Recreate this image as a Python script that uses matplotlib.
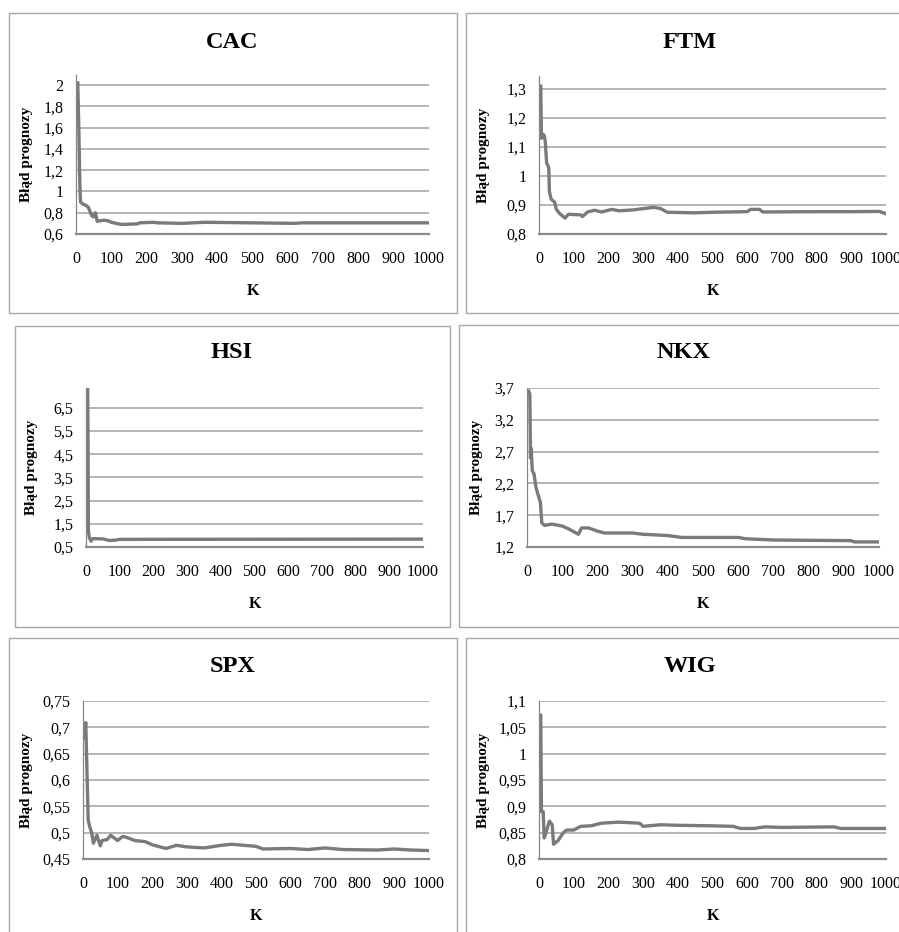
import matplotlib.pyplot as plt
from matplotlib.patches import Rectangle
import numpy as np

plt.rcParams['font.family'] = ['Liberation Serif', 'DejaVu Serif']

# values (K, forecast error)
cac_k = [5, 8, 11, 13, 20, 28, 35, 45, 50, 55, 60, 80, 90, 100, 120, 130, 175, 180, 220, 230, 300, 365, 620, 640, 1000]
cac_v = [2.02, 1.6, 1.05, 0.9, 0.88, 0.87, 0.85, 0.77, 0.76, 0.8, 0.72, 0.73, 0.725, 0.71, 0.695, 0.69, 0.695, 0.705, 0.71, 0.705, 0.7, 0.71, 0.7, 0.705, 0.705]

ftm_k = [5, 7, 10, 15, 18, 22, 28, 30, 35, 45, 50, 60, 75, 85, 120, 125, 140, 160, 180, 210, 230, 270, 330, 350, 370, 450, 500, 600, 610, 635, 645, 800, 900, 980, 1000]
ftm_v = [1.31, 1.13, 1.145, 1.14, 1.12, 1.045, 1.03, 0.947, 0.92, 0.91, 0.885, 0.87, 0.855, 0.868, 0.866, 0.86, 0.876, 0.882, 0.876, 0.885, 0.88, 0.883, 0.892, 0.888, 0.875, 0.873, 0.875, 0.877, 0.885, 0.885, 0.876, 0.877, 0.877, 0.878, 0.87]

hsi_k = [5, 6, 7, 10, 15, 20, 50, 70, 90, 100, 1000]
hsi_v = [7.3, 5.2, 1.2, 0.9, 0.75, 0.86, 0.85, 0.78, 0.8, 0.83, 0.84]

nkx_k = [5, 8, 10, 12, 15, 20, 25, 30, 38, 42, 50, 60, 70, 100, 120, 146, 155, 175, 200, 220, 300, 330, 400, 440, 600, 620, 700, 920, 930, 1000]
nkx_v = [3.65, 3.6, 2.6, 2.75, 2.4, 2.35, 2.15, 2.05, 1.9, 1.58, 1.54, 1.55, 1.56, 1.53, 1.48, 1.40, 1.50, 1.50, 1.45, 1.42, 1.42, 1.40, 1.38, 1.35, 1.35, 1.33, 1.31, 1.30, 1.28, 1.28]

spx_k = [3, 8, 12, 15, 20, 25, 30, 40, 50, 55, 70, 80, 100, 115, 130, 150, 180, 200, 240, 270, 300, 350, 400, 430, 500, 520, 600, 650, 700, 750, 850, 900, 950, 1000]
spx_v = [0.68, 0.709, 0.603, 0.524, 0.51, 0.5, 0.48, 0.495, 0.475, 0.485, 0.487, 0.495, 0.485, 0.493, 0.49, 0.485, 0.483, 0.477, 0.47, 0.476, 0.473, 0.471, 0.476, 0.478, 0.474, 0.469, 0.47, 0.468, 0.471, 0.468, 0.467, 0.469, 0.467, 0.466]

wig_k = [5, 7, 12, 15, 20, 30, 38, 42, 55, 70, 80, 100, 120, 150, 180, 230, 290, 300, 350, 400, 500, 560, 580, 620, 650, 700, 850, 870, 1000]
wig_v = [1.073, 0.89, 0.89, 0.84, 0.85, 0.872, 0.865, 0.828, 0.835, 0.85, 0.855, 0.855, 0.862, 0.863, 0.868, 0.87, 0.868, 0.862, 0.865, 0.864, 0.863, 0.862, 0.858, 0.858, 0.861, 0.86, 0.861, 0.858, 0.858]

W, H = 899, 932
fig = plt.figure(figsize=(W / 100, H / 100), dpi=100)


def px(x0, y0, x1, y1):
    # pixel box (top-left origin) -> figure fraction rect
    return [x0 / W, 1 - y1 / H, (x1 - x0) / W, (y1 - y0) / H]


def panel(title, k, v, box, axbox, ylim, yticks, ylabels, title_y, ylab_x):
    fig.add_artist(Rectangle((box[0] / W, 1 - box[3] / H), (box[2] - box[0]) / W,
                             (box[3] - box[1]) / H, transform=fig.transFigure,
                             fill=False, edgecolor='#a6a6a6', linewidth=1.0))
    ax = fig.add_axes(px(*axbox))
    ax.plot(k, v, color='#7a7a7a', linewidth=2.4, solid_joinstyle='round')
    ax.set_xlim(0, 1000)
    ax.set_ylim(*ylim)
    ax.set_xticks(np.arange(0, 1001, 100))
    ax.set_yticks(yticks)
    ax.set_yticklabels(ylabels)
    ax.tick_params(length=0, labelsize=11.5)
    ax.tick_params(axis='x', pad=12)
    ax.tick_params(axis='y', pad=9)
    ax.grid(axis='y', color='#a0a0a0', linewidth=1.1)
    ax.set_axisbelow(True)
    for s in ['top', 'right']:
        ax.spines[s].set_visible(False)
    ax.spines['left'].set_color('#868686')
    ax.spines['left'].set_linewidth(0.9)
    ax.spines['bottom'].set_color('#8c8c8c')
    ax.spines['bottom'].set_linewidth(1.6)
    ax.set_xlabel('K', fontsize=11.5, fontweight='bold', labelpad=12)
    ax.set_ylabel('Błąd prognozy', fontsize=11, fontweight='bold')
    ax.yaxis.set_label_coords((ylab_x - axbox[0]) / (axbox[2] - axbox[0]), 0.5)
    fig.text(title_y[0] / W, 1 - title_y[1] / H, title,
             ha='center', va='center', fontsize=17.5, fontweight='bold')
    return ax


def lab(vals, fmt):
    return [fmt.format(x).replace('.', ',') for x in vals]


panel('CAC', cac_k, cac_v, (9, 13, 457, 313), (76, 75, 429, 234), (0.6, 2.094),
      np.arange(0.6, 2.01, 0.2), ['0,6', '0,8', '1', '1,2', '1,4', '1,6', '1,8', '2'], (232, 42), 33)
panel('FTM', ftm_k, ftm_v, (466, 13, 910, 313), (539, 76, 886, 234), (0.8, 1.345),
      np.arange(0.8, 1.31, 0.1), ['0,8', '0,9', '1', '1,1', '1,2', '1,3'], (690, 42), 490)
panel('HSI', hsi_k, hsi_v, (15, 326, 450, 627), (86, 388, 423, 547), (0.5, 7.36),
      np.arange(0.5, 6.6, 1.0), lab(np.arange(0.5, 6.6, 1.0), '{:.1f}'), (232, 353), 38)
panel('NKX', nkx_k, nkx_v, (459, 325, 910, 627), (527, 388, 879, 547), (1.2, 3.7),
      np.arange(1.2, 3.71, 0.5), lab(np.arange(1.2, 3.71, 0.5), '{:.1f}'), (683, 353), 483)
panel('SPX', spx_k, spx_v, (9, 638, 457, 940), (83, 701, 429, 859), (0.45, 0.75),
      np.arange(0.45, 0.751, 0.05), ['0,45', '0,5', '0,55', '0,6', '0,65', '0,7', '0,75'], (233, 667), 33)
panel('WIG', wig_k, wig_v, (466, 638, 910, 940), (539, 701, 886, 859), (0.8, 1.1),
      np.arange(0.8, 1.101, 0.05), ['0,8', '0,85', '0,9', '0,95', '1', '1,05', '1,1'], (690, 667), 490)

fig.savefig('out.png', dpi=100)
